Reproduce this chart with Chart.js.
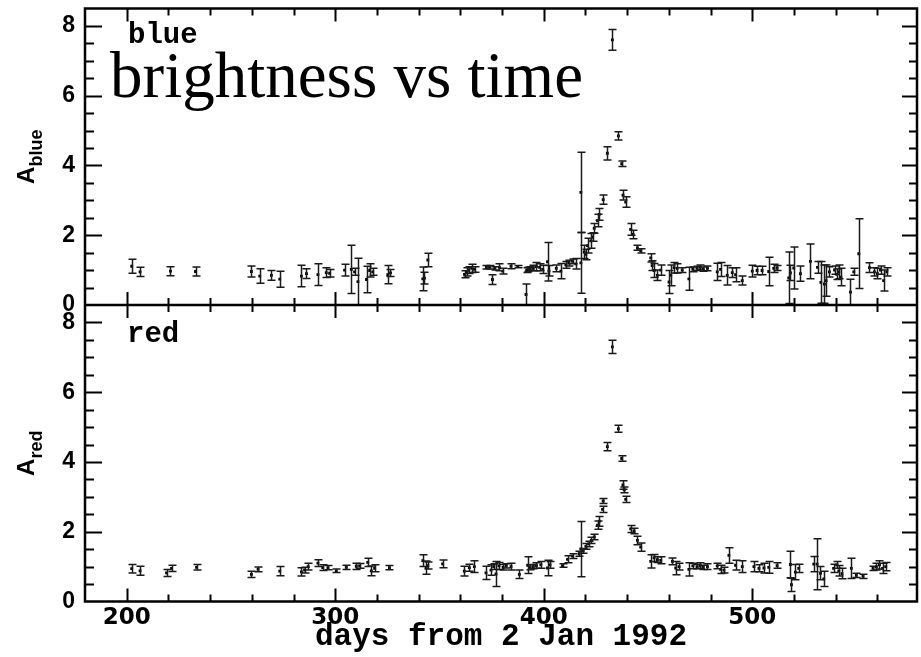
<!DOCTYPE html>
<html>
<head>
<meta charset="utf-8">
<script src="https://cdn.jsdelivr.net/npm/chart.js@4.4.1/dist/chart.umd.min.js"></script>
<style>
  html, body { margin: 0; padding: 0; background: #fff; }
  #grafico { display: block; }
</style>
</head>
<body>
<canvas id="grafico" width="921" height="657"></canvas>
<script>
// dados (dias desde 2 Jan 1992, amplificação, erro)
const blueDays = [202.4, 206.4, 221.0, 233.0, 259.8, 263.8, 269.4, 273.4, 283.8, 286.2, 291.7, 295.7, 297.3, 304.5, 307.7, 309.3, 310.9, 315.0, 316.5, 318.0,
    325.2, 326.5, 342.0, 342.8, 344.4, 362.0, 363.0, 364.0, 365.5, 366.8, 372.5, 374.0, 375.4, 376.5, 378.7, 380.3, 384.3, 387.5, 391.5, 391.8,
    392.5, 393.5, 395.0, 396.5, 398.0, 399.5, 401.8, 402.5, 406.0, 408.2, 410.6, 412.0, 413.8, 415.4, 417.8, 417.8, 419.4, 420.2, 421.0, 422.6,
    423.4, 424.2, 425.8, 426.6, 428.5, 430.5, 432.9, 435.8, 437.4, 438.0, 439.3, 441.7, 442.8, 444.9, 446.5, 451.3, 452.0, 452.9, 454.5, 456.1,
    460.1, 460.9, 462.5, 464.0, 466.4, 469.6, 471.5, 473.5, 475.0, 476.5, 478.5, 483.2, 484.8, 488.0, 490.4, 492.0, 495.2, 500.0, 502.3, 504.7,
    507.9, 510.3, 511.9, 517.5, 518.3, 519.9, 523.1, 527.9, 531.3, 532.9, 534.6, 535.4, 537.0, 539.5, 540.5, 541.5, 542.5, 547.1, 548.7, 551.1,
    556.2, 558.6, 560.0, 561.5, 563.0, 564.5];
const blueValues = [1.11, 0.95, 0.97, 0.96, 0.96, 0.83, 0.85, 0.74, 0.83, 0.90, 0.87, 0.93, 0.91, 1.00, 1.02, 0.95, 0.67, 0.73, 0.99, 0.95,
    0.87, 0.92, 0.75, 0.77, 1.29, 0.88, 0.95, 1.00, 1.05, 1.02, 1.08, 1.08, 0.73, 1.05, 1.08, 0.97, 1.11, 1.10, 0.30, 1.00,
    1.02, 1.05, 1.06, 1.10, 1.08, 1.02, 1.24, 0.98, 1.05, 0.97, 1.15, 1.20, 1.25, 1.18, 3.23, 1.21, 1.52, 1.45, 1.70, 1.84,
    1.95, 2.20, 2.42, 2.60, 3.02, 4.35, 7.60, 4.85, 4.05, 3.15, 2.95, 2.17, 2.02, 1.64, 1.55, 1.35, 1.13, 0.99, 0.85, 1.00,
    0.66, 0.85, 1.07, 1.05, 1.00, 0.75, 1.02, 1.05, 1.08, 1.03, 1.05, 0.95, 1.02, 0.85, 0.93, 0.87, 0.70, 0.97, 0.99, 0.99,
    0.96, 1.05, 1.06, 0.78, 0.92, 1.06, 0.90, 1.25, 1.08, 0.65, 0.60, 0.70, 0.95, 1.00, 0.88, 0.95, 0.80, 0.37, 0.95, 1.47,
    1.07, 0.95, 0.90, 1.00, 0.70, 0.95];
const blueErrors = [0.20, 0.13, 0.13, 0.13, 0.16, 0.21, 0.14, 0.23, 0.31, 0.14, 0.31, 0.14, 0.11, 0.17, 0.69, 0.10, 0.67, 0.38, 0.19, 0.10,
    0.26, 0.10, 0.34, 0.17, 0.19, 0.10, 0.12, 0.10, 0.12, 0.08, 0.05, 0.05, 0.14, 0.05, 0.10, 0.08, 0.07, 0.03, 0.30, 0.07,
    0.06, 0.05, 0.08, 0.12, 0.10, 0.12, 0.55, 0.15, 0.10, 0.22, 0.10, 0.08, 0.07, 0.15, 1.15, 0.87, 0.19, 0.15, 0.21, 0.21,
    0.12, 0.14, 0.18, 0.17, 0.13, 0.19, 0.30, 0.12, 0.08, 0.14, 0.15, 0.17, 0.12, 0.07, 0.06, 0.12, 0.14, 0.20, 0.15, 0.15,
    0.33, 0.30, 0.15, 0.13, 0.07, 0.33, 0.07, 0.06, 0.07, 0.06, 0.07, 0.25, 0.20, 0.28, 0.14, 0.20, 0.13, 0.17, 0.12, 0.12,
    0.41, 0.12, 0.07, 0.74, 0.22, 0.60, 0.22, 0.50, 0.17, 0.60, 0.55, 0.45, 0.15, 0.12, 0.15, 0.20, 0.25, 0.37, 0.10, 1.00,
    0.14, 0.12, 0.15, 0.12, 0.30, 0.12];

const redDays = [202.4, 206.4, 219.1, 221.5, 233.5, 259.8, 263.0, 273.4, 283.8, 285.3, 287.0, 291.7, 294.0, 296.5, 300.5, 305.3, 310.1, 311.7, 315.6, 317.3,
    318.9, 326.0, 342.0, 343.6, 344.4, 351.5, 361.9, 364.3, 366.7, 372.3, 374.7, 377.1, 376.0, 378.5, 380.5, 382.0, 384.3, 388.3, 392.3, 393.5,
    395.0, 396.5, 398.6, 401.8, 403.0, 409.0, 411.4, 413.8, 417.0, 417.8, 418.9, 420.2, 421.5, 422.8, 424.2, 425.8, 426.6, 428.2, 428.5, 430.5,
    432.9, 435.8, 437.4, 438.0, 438.6, 439.3, 441.7, 443.3, 444.9, 446.5, 451.3, 452.9, 454.5, 456.1, 461.7, 463.3, 464.9, 469.6, 471.5, 473.5,
    475.0, 476.5, 478.5, 483.2, 484.8, 486.4, 488.8, 492.0, 495.2, 500.8, 503.2, 505.6, 507.9, 511.9, 518.3, 518.8, 520.7, 522.3, 529.5, 531.1,
    532.7, 534.3, 539.0, 540.5, 541.5, 543.0, 547.5, 549.9, 553.1, 557.9, 559.5, 561.0, 562.5, 564.0];
const redValues = [0.94, 0.88, 0.82, 0.95, 0.98, 0.78, 0.92, 0.87, 0.85, 0.90, 1.00, 1.10, 0.97, 0.97, 0.88, 0.98, 1.01, 1.02, 1.12, 0.88,
    0.95, 0.97, 1.17, 0.97, 1.03, 1.08, 0.87, 0.97, 1.00, 0.82, 0.90, 0.79, 1.00, 1.02, 0.98, 1.02, 1.00, 0.78, 1.04, 0.98,
    1.00, 1.03, 1.05, 0.96, 1.05, 1.03, 1.21, 1.30, 1.37, 1.50, 1.45, 1.58, 1.65, 1.75, 1.85, 2.19, 2.30, 2.64, 2.88, 4.44,
    7.30, 4.95, 4.10, 3.34, 3.20, 2.93, 2.08, 2.02, 1.75, 1.56, 1.15, 1.25, 1.20, 1.18, 1.15, 0.96, 1.00, 0.92, 1.02, 1.00,
    1.03, 0.98, 1.00, 1.02, 0.92, 0.90, 1.32, 1.04, 1.00, 1.00, 0.95, 0.96, 0.98, 1.03, 1.06, 0.48, 0.84, 0.95, 1.07, 1.07,
    0.81, 0.65, 0.95, 1.05, 0.88, 0.80, 0.95, 0.75, 0.72, 0.95, 1.00, 1.05, 0.95, 1.00];
const redErrors = [0.12, 0.13, 0.10, 0.09, 0.08, 0.09, 0.07, 0.13, 0.12, 0.08, 0.10, 0.10, 0.08, 0.06, 0.05, 0.06, 0.09, 0.07, 0.12, 0.14,
    0.10, 0.06, 0.17, 0.19, 0.10, 0.11, 0.14, 0.10, 0.17, 0.19, 0.15, 0.36, 0.08, 0.10, 0.08, 0.06, 0.10, 0.12, 0.24, 0.07,
    0.06, 0.08, 0.10, 0.22, 0.10, 0.05, 0.10, 0.07, 0.07, 0.79, 0.07, 0.08, 0.08, 0.09, 0.08, 0.12, 0.14, 0.09, 0.07, 0.12,
    0.19, 0.10, 0.08, 0.12, 0.08, 0.09, 0.10, 0.08, 0.12, 0.12, 0.19, 0.10, 0.08, 0.10, 0.10, 0.19, 0.10, 0.19, 0.08, 0.06,
    0.08, 0.06, 0.08, 0.08, 0.12, 0.08, 0.22, 0.14, 0.17, 0.15, 0.10, 0.14, 0.17, 0.08, 0.38, 0.19, 0.22, 0.12, 0.22, 0.73,
    0.19, 0.22, 0.12, 0.10, 0.15, 0.15, 0.29, 0.06, 0.06, 0.06, 0.10, 0.12, 0.15, 0.12];

const xTickLabels = [200, 300, 400, 500];
const yTickLabels = [0, 2, 4, 6, 8];

function toPoints(days, values, errors) {
    return days.map((d, i) => ({ x: d, y: values[i], err: errors[i] }));
}

// barras de erro desenhadas pelas escalas do próprio Chart.js
const errorBars = {
    id: "errorBars",
    afterDatasetsDraw(chart) {
        const ctx = chart.ctx;
        const xs = chart.scales.x;
        chart.data.datasets.forEach(ds => {
            const ys = chart.scales[ds.yAxisID];
            ctx.save();
            ctx.beginPath();
            ctx.rect(xs.left, ys.top, xs.width, ys.height);
            ctx.clip();
            ctx.strokeStyle = "#1a1a1a";
            ctx.lineWidth = 1.5;
            ds.data.forEach(p => {
                const px = Math.round(xs.getPixelForValue(p.x)) + 0.5;
                const top = ys.getPixelForValue(p.y + p.err);
                const bot = ys.getPixelForValue(p.y - p.err);
                ctx.beginPath();
                ctx.moveTo(px, top); ctx.lineTo(px, bot);
                ctx.moveTo(px - 4, top); ctx.lineTo(px + 4, top);
                ctx.moveTo(px - 4, bot); ctx.lineTo(px + 4, bot);
                ctx.stroke();
            });
            ctx.restore();
        });
    }
};

// moldura, marcas para dentro e textos
const frame = {
    id: "frame",
    afterDraw(chart) {
        const ctx = chart.ctx;
        const xs = chart.scales.x;
        const panels = [chart.scales.yBlue, chart.scales.yRed];
        ctx.save();
        ctx.strokeStyle = "#000";

        ctx.lineWidth = 2;
        panels.forEach(ys => {
            ctx.beginPath();
            for (let v = 200; v < xs.max; v += 20) {
                const px = Math.round(xs.getPixelForValue(v)) + 0.5;
                const len = v % 100 === 0 ? 13 : 7;
                ctx.moveTo(px, ys.top); ctx.lineTo(px, ys.top + len);
                ctx.moveTo(px, ys.bottom); ctx.lineTo(px, ys.bottom - len);
            }
            for (let v = 0.5; v < ys.max; v += 0.5) {
                const py = Math.round(ys.getPixelForValue(v)) + 0.5;
                const major = v % 2 === 0;
                ctx.moveTo(xs.left, py); ctx.lineTo(xs.left + (major ? 17 : 9), py);
                ctx.moveTo(xs.right, py); ctx.lineTo(xs.right - (major ? 15 : 8), py);
            }
            ctx.stroke();
        });

        ctx.lineWidth = 2.5;
        const area = chart.chartArea;
        ctx.strokeRect(area.left, area.top, area.right - area.left, area.bottom - area.top);
        ctx.beginPath();
        ctx.moveTo(area.left, chart.scales.yBlue.bottom);
        ctx.lineTo(area.right, chart.scales.yBlue.bottom);
        ctx.stroke();

        ctx.fillStyle = "#000";
        ctx.textAlign = "left";
        ctx.textBaseline = "alphabetic";
        ctx.font = "bold 29px 'Liberation Mono'";
        ctx.fillText("blue", 128, 43);
        ctx.fillText("red", 127, 342);

        ctx.font = "65px 'Liberation Serif'";
        ctx.fillText("brightness vs time", 110, 97);

        // títulos dos eixos y com subscrito
        [["blue", chart.scales.yBlue], ["red", chart.scales.yRed]].forEach(([sub, ys]) => {
            const cy = (ys.top + ys.bottom) / 2;
            ctx.save();
            ctx.translate(40, cy);
            ctx.rotate(-Math.PI / 2);
            ctx.font = "bold 24px 'Liberation Sans'";
            const wA = ctx.measureText("A").width;
            ctx.font = "bold 18px 'Liberation Sans'";
            const wSub = ctx.measureText(sub).width;
            const start = -(wA + wSub) / 2;
            ctx.font = "bold 24px 'Liberation Sans'";
            ctx.fillText("A", start, -6);
            ctx.font = "bold 18px 'Liberation Sans'";
            ctx.fillText(sub, start + wA, 2);
            ctx.restore();
        });
        ctx.restore();
    }
};

const yCommon = {
    type: "linear",
    position: "left",
    stack: "panels",
    stackWeight: 1,
    min: 0,
    max: 8.5,
    grid: { display: false, drawTicks: false },
    border: { display: false },
    afterBuildTicks: s => { s.ticks = yTickLabels.map(v => ({ value: v })); },
    afterFit: s => {
        s.width = 85;
        s.paddingTop = 0;
        s.paddingBottom = 0;
    },
    ticks: {
        color: "#000",
        padding: 10,
        font: { family: "'Liberation Sans'", size: 23, weight: "bold" }
    }
};

new Chart(document.getElementById("grafico"), {
    type: "scatter",
    data: {
        datasets: [
            {
                label: "red",
                yAxisID: "yRed",
                data: toPoints(redDays, redValues, redErrors),
                pointStyle: "rect",
                pointRadius: 2,
                backgroundColor: "#000",
                borderColor: "#000",
                borderWidth: 0
            },
            {
                label: "blue",
                yAxisID: "yBlue",
                data: toPoints(blueDays, blueValues, blueErrors),
                pointStyle: "rect",
                pointRadius: 2,
                backgroundColor: "#000",
                borderColor: "#000",
                borderWidth: 0
            }
        ]
    },
    options: {
        responsive: false,
        animation: false,
        devicePixelRatio: 1,
        layout: { padding: { top: 8.5, right: 3, left: 0, bottom: 0 } },
        plugins: {
            legend: { display: false },
            tooltip: { enabled: false }
        },
        scales: {
            x: {
                type: "linear",
                position: "bottom",
                min: 180,
                max: 579,
                grid: { display: false, drawTicks: false },
                border: { display: false },
                afterBuildTicks: s => { s.ticks = xTickLabels.map(v => ({ value: v })); },
                afterFit: s => {
                    s.height = 55.5;
                    s.paddingLeft = 0;
                    s.paddingRight = 0;
                },
                ticks: {
                    color: "#000",
                    padding: 3,
                    maxRotation: 0,
                    autoSkip: false,
                    font: { family: "'DejaVu Sans'", size: 23, weight: "bold" }
                },
                title: {
                    display: true,
                    text: "days from 2 Jan 1992",
                    color: "#000",
                    padding: { top: 0, bottom: 1 },
                    font: { family: "'Liberation Mono'", size: 31, weight: "bold" }
                }
            },
            yRed: { ...yCommon },
            yBlue: { ...yCommon }
        }
    },
    plugins: [errorBars, frame]
});
</script>
</body>
</html>
